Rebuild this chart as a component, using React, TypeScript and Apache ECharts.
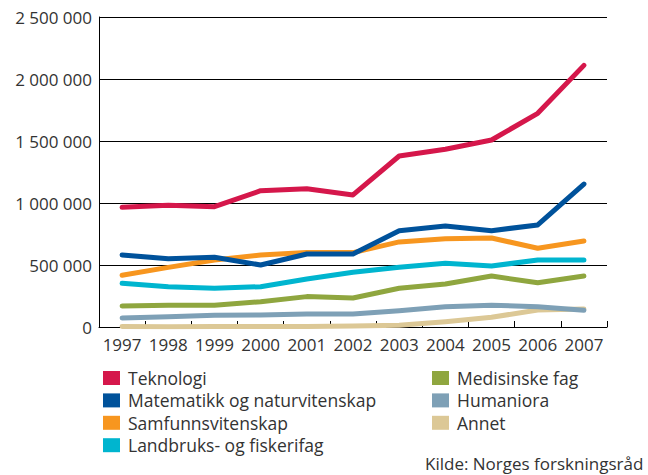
import React, { useEffect, useRef } from "react";
import * as echarts from "echarts";

const years = ["1997", "1998", "1999", "2000", "2001", "2002", "2003", "2004", "2005", "2006", "2007"];

const teknologi = [965000, 981000, 970000, 1099000, 1115000, 1065000, 1379000, 1433000, 1508000, 1723000, 2110000];
const matematikk = [581000, 551000, 562000, 500000, 589000, 589000, 777000, 815000, 777000, 823000, 1153000];
const samfunn = [417000, 481000, 540000, 581000, 600000, 600000, 686000, 712000, 718000, 635000, 694000];
const landbruk = [352000, 325000, 312000, 325000, 387000, 441000, 481000, 514000, 492000, 540000, 540000];
const medisin = [169000, 175000, 175000, 204000, 245000, 234000, 312000, 347000, 411000, 357000, 411000];
const humaniora = [73000, 83000, 94000, 97000, 105000, 105000, 131000, 164000, 175000, 164000, 135000];
const annet = [5000, 3000, 5000, 5000, 5000, 8000, 14000, 43000, 78000, 137000, 145000];

const names = [
  "Teknologi",
  "Matematikk og naturvitenskap",
  "Samfunnsvitenskap",
  "Landbruks- og fiskerifag",
  "Medisinske fag",
  "Humaniora",
  "Annet",
];
const colors = ["#d5174b", "#00529b", "#f7961f", "#00b5cf", "#8fa63f", "#7ea0b6", "#dcc896"];
const seriesData = [teknologi, matematikk, samfunn, landbruk, medisin, humaniora, annet];

const font = "'Open Sans', 'Noto Sans', sans-serif";

export default function App() {
  const ref = useRef<HTMLDivElement>(null);
  useEffect(() => {
    if (!ref.current) return;
    const chart = echarts.init(ref.current, undefined, { renderer: "svg" });
    const legendText = { fontFamily: font, fontSize: 17.5, color: "#333", lineHeight: 14, padding: [0, 0, 0, 3] };
    const legendBase = {
      orient: "vertical",
      top: 369,
      icon: "rect",
      itemWidth: 17,
      itemHeight: 14,
      itemGap: 4.4,
      textStyle: legendText,
      padding: 0,
    };
    chart.setOption({
      animation: false,
      backgroundColor: "#fff",
      grid: { left: 99, right: 41, top: 17, bottom: 148, containLabel: false },
      xAxis: {
        type: "category",
        data: years,
        boundaryGap: true,
        axisLine: { lineStyle: { color: "#000", width: 1 } },
        axisTick: { show: true, inside: true, length: 6, interval: 0, lineStyle: { color: "#000" } },
        axisLabel: { fontFamily: font, fontSize: 17, color: "#333", margin: 9, interval: 0 },
      },
      yAxis: {
        type: "value",
        min: 0,
        max: 2500000,
        interval: 500000,
        axisLine: { show: true, lineStyle: { color: "#000", width: 1 } },
        axisTick: { show: false },
        splitLine: { lineStyle: { color: "#000", width: 1 } },
        axisLabel: {
          fontFamily: font,
          fontSize: 17,
          color: "#333",
          margin: 7,
          formatter: (v: number) => String(v).replace(/\B(?=(\d{3})+(?!\d))/g, " "),
        },
      },
      legend: [
        { ...legendBase, data: names.slice(0, 4), left: 103 },
        { ...legendBase, data: names.slice(4), left: 432 },
      ],
      graphic: [
        {
          type: "text",
          left: 425,
          top: 455,
          style: { text: "Kilde: Norges forskningsråd", font: `17px ${font}`, fill: "#333" },
        },
      ],
      series: names
        .map((n, i) => ({
          name: n,
          type: "line",
          data: seriesData[i],
          symbol: "none",
          lineStyle: { width: 5, color: colors[i], cap: "round", join: "round" },
          itemStyle: { color: colors[i] },
          z: 10 - i,
        }))
        .reverse(),
    });
    return () => chart.dispose();
  }, []);
  return <div ref={ref} style={{ width: 648, height: 475, position: "absolute", left: 0, top: 0 }} />;
}
